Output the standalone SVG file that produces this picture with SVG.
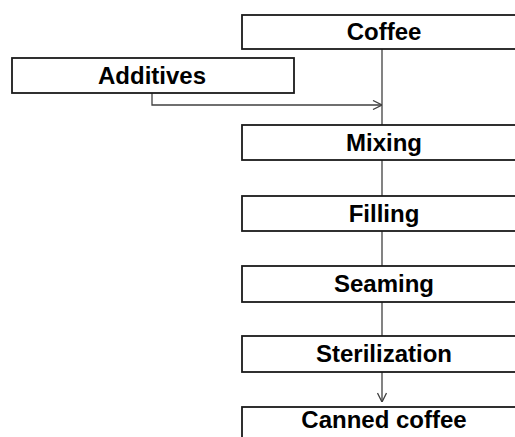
<svg xmlns="http://www.w3.org/2000/svg" width="515" height="437" viewBox="0 0 515 437">
  <style>
    .box { fill: #ffffff; stroke: #1a1a1a; stroke-width: 1.8; }
    .label { font-family: "Liberation Sans", Arial, sans-serif; font-weight: bold; font-size: 24px; fill: #000000; text-anchor: middle; }
    .link { fill: none; stroke: #404040; stroke-width: 1.3; }
  </style>
  <defs>
    <marker id="open-arrow" viewBox="0 0 10 10" refX="10" refY="5" markerWidth="10" markerHeight="10" markerUnits="userSpaceOnUse" orient="auto">
      <path d="M1 0.5 L10 5 L1 9.5" fill="none" stroke="#404040" stroke-width="1.3"/>
    </marker>
  </defs>
  <rect width="515" height="437" fill="#ffffff"/>

  <g id="connectors">
    <path class="link" d="M152 93 V105 H382" marker-end="url(#open-arrow)"/>
    <path class="link" d="M382 49 V125"/>
    <path class="link" d="M382 160 V196"/>
    <path class="link" d="M382 231 V266"/>
    <path class="link" d="M382 302 V336"/>
    <path class="link" d="M382 372 V402" marker-end="url(#open-arrow)"/>
  </g>

  <g id="coffee">
    <rect class="box" x="242" y="15" width="282" height="34"/>
    <text class="label" x="384" y="40">Coffee</text>
  </g>
  <g id="additives">
    <rect class="box" x="12" y="58" width="282" height="35"/>
    <text class="label" x="152" y="84">Additives</text>
  </g>
  <g id="mixing">
    <rect class="box" x="242" y="125" width="282" height="35"/>
    <text class="label" x="384" y="151">Mixing</text>
  </g>
  <g id="filling">
    <rect class="box" x="242" y="196" width="282" height="35"/>
    <text class="label" x="384" y="222">Filling</text>
  </g>
  <g id="seaming">
    <rect class="box" x="242" y="266" width="282" height="36"/>
    <text class="label" x="384" y="292">Seaming</text>
  </g>
  <g id="sterilization">
    <rect class="box" x="242" y="336" width="282" height="36"/>
    <text class="label" x="384" y="362">Sterilization</text>
  </g>
  <g id="canned-coffee">
    <rect class="box" x="242" y="407" width="282" height="36"/>
    <text class="label" x="384" y="428">Canned coffee</text>
  </g>
</svg>
